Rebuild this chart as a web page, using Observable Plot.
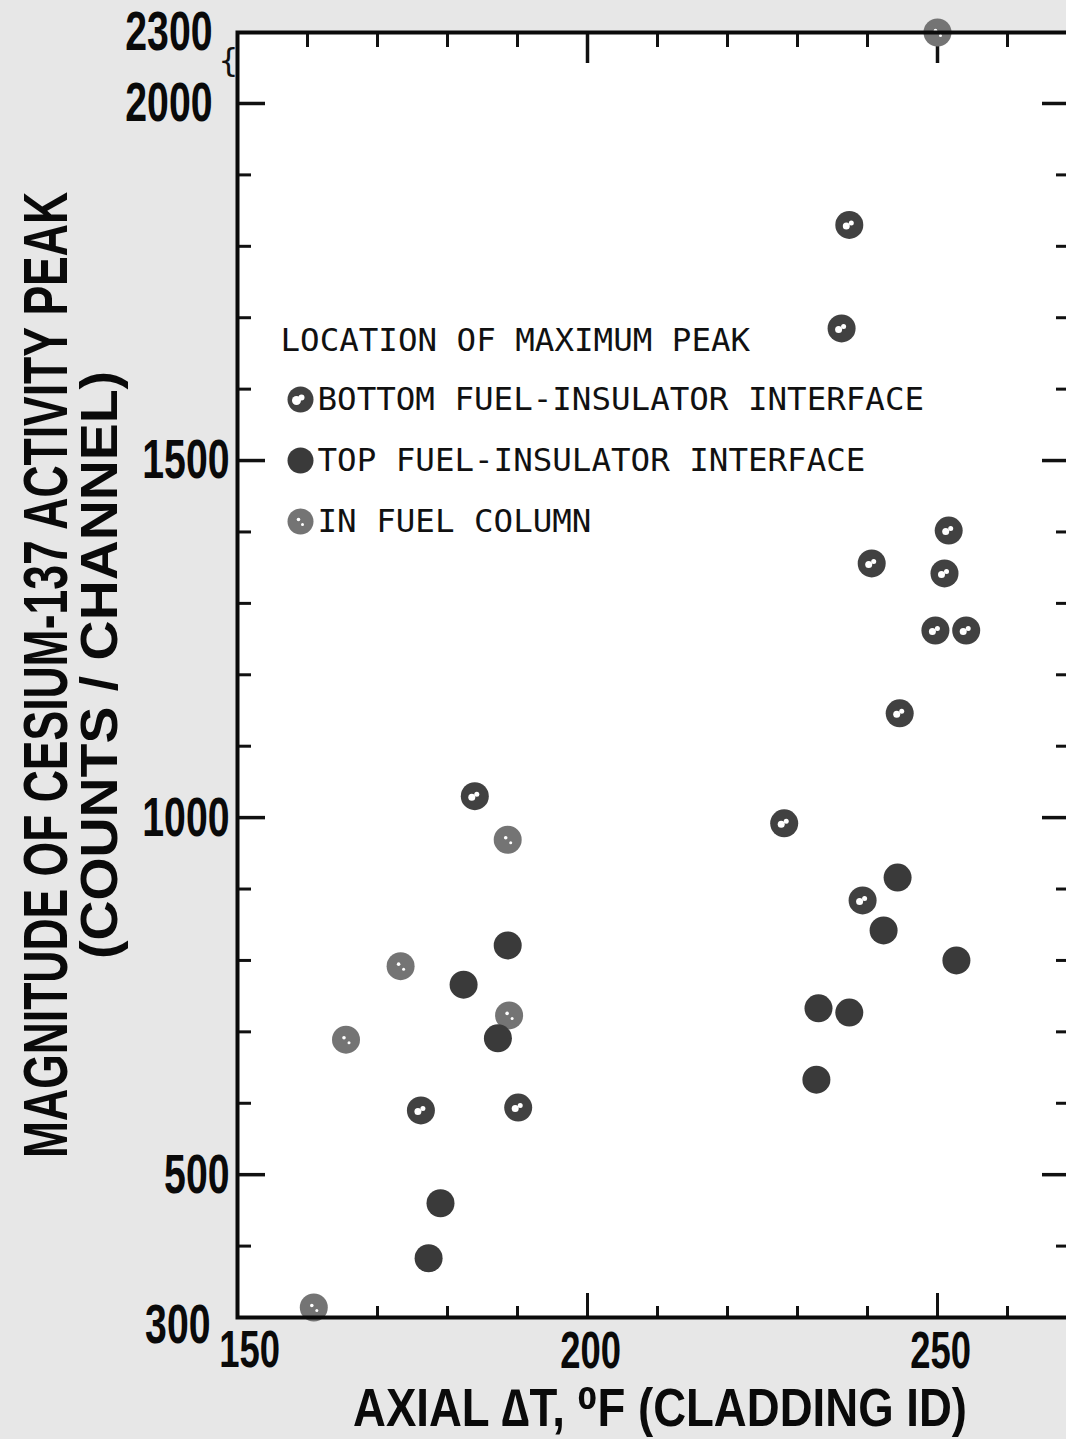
<!DOCTYPE html>
<html>
<head>
<meta charset="utf-8">
<script src="https://cdn.jsdelivr.net/npm/d3@7"></script>
<script src="https://cdn.jsdelivr.net/npm/@observablehq/plot@0.6"></script>
<style>
  html, body { margin: 0; padding: 0; background: #e7e7e7; overflow: hidden; }
  #chart { position: absolute; left: 0; top: 0; }
  #chart svg { max-width: none !important; }
</style>
</head>
<body>
<div id="chart"></div>
<script>
// ---- data ----
const categories = ["BOTTOM FUEL-INSULATOR INTERFACE", "TOP FUEL-INSULATOR INTERFACE", "IN FUEL COLUMN"];
const categoryColors = ["#414141", "#3a3a3a", "#747474"];
const legendTitle = "LOCATION OF MAXIMUM PEAK";

// axial delta T (deg F, cladding ID)
const deltaT = [250.0, 237.4, 236.3, 251.6, 240.6, 251.0, 249.7, 254.1, 244.6, 183.9,
                228.1, 188.6, 244.3, 239.3, 242.3, 188.6, 252.7, 173.3, 182.3, 233.0,
                237.4, 188.8, 187.2, 165.5, 232.7, 176.2, 190.1, 179.0, 177.3, 160.9];
// magnitude of Cs-137 activity peak (counts / channel)
const activity = [2300, 1830, 1685, 1402, 1356, 1342, 1262, 1262, 1146, 1030,
                  992, 969, 916, 884, 842, 821, 800, 792, 766, 733,
                  727, 723, 691, 689, 633, 590, 594, 460, 383, 314];
// location of maximum peak: B = bottom interface, T = top interface, F = in fuel column
const peakLocation = ["F", "B", "B", "B", "B", "B", "B", "B", "B", "B",
                      "B", "F", "T", "B", "T", "T", "T", "F", "T", "T",
                      "T", "F", "T", "F", "T", "B", "B", "T", "T", "F"];

const xMajorTicks = [200, 250];
const xMinorTicks = [160, 170, 180, 190, 210, 220, 230, 240, 260];
const yMajorTicks = [500, 1000, 1500, 2000];
const yMinorTicks = [400, 600, 700, 800, 900, 1100, 1200, 1300, 1400, 1600, 1700, 1800, 1900];
const xTickLabels = [150, 200, 250];
const yTickLabelsUpper = [2300, 2000];
const yTickLabelsMid = [1500, 1000, 500];
const yTickLabelsLow = [300];

const xTitle = "AXIAL \u2206T, \u2070F (CLADDING ID)";
const yTitle1 = "MAGNITUDE OF CESIUM-137 ACTIVITY PEAK";
const yTitle2 = "(COUNTS / CHANNEL)";

// ---- table ----
const codeToCat = {B: categories[0], T: categories[1], F: categories[2]};
const points = deltaT.map((x, i) => ({deltaT: x, activity: activity[i], loc: codeToCat[peakLocation[i]]}));

// broken y axis: 2000..2300 is compressed into a short segment above 2000
const breakAt = 2000, breakTop = 2300, breakSpan = 99.4;
const yPos = v => v <= breakAt ? v : breakAt + (v - breakAt) * breakSpan / (breakTop - breakAt);

// ---- layout ----
const W = 1080, H = 1439;
const mL = 237, mR = 10, mT = 32, mB = 122;
const fw = W - mL - mR, fh = H - mT - mB;

const lettering = "'Liberation Sans', Arial, 'DejaVu Sans', sans-serif";
const mono = "'DejaVu Sans Mono', monospace";

const legendMarks = categories.flatMap((c, i) => {
  const dy = 367 + 61 * i;
  const ms = [
    Plot.dot([c], {frameAnchor: "top-left", dx: 63, dy, r: 13, fill: d => d}),
    Plot.text([c], {frameAnchor: "top-left", dx: 80, dy, text: d => d, textAnchor: "start",
      lineAnchor: "middle", fontFamily: mono, fontSize: 32.5, fill: "#111"})
  ];
  if (i === 0) ms.splice(1, 0,
    Plot.dot([c], {frameAnchor: "top-left", dx: 59, dy: dy + 1, r: 4.5, fill: "white"}),
    Plot.dot([c], {frameAnchor: "top-left", dx: 64, dy: dy - 2, r: 3, fill: "white"}));
  if (i === 2) ms.splice(1, 0,
    Plot.dot([c], {frameAnchor: "top-left", dx: 61, dy: dy - 2, r: 1.8, fill: "white"}),
    Plot.dot([c], {frameAnchor: "top-left", dx: 65, dy: dy + 3, r: 1.5, fill: "white"}));
  return ms;
});

const bottomPts = points.filter(d => d.loc === categories[0]);
const fuelPts = points.filter(d => d.loc === categories[2]);
const yOf = d => yPos(d.activity);

const chart = Plot.plot({
  width: W, height: H,
  marginLeft: mL, marginRight: mR, marginTop: mT, marginBottom: mB,
  style: {background: "transparent", overflow: "visible", maxWidth: "none"},
  x: {domain: [150, 269], axis: null},
  y: {domain: [300, breakAt + breakSpan], axis: null},
  color: {domain: categories, range: categoryColors},
  marks: [
    Plot.frame({fill: "white", stroke: "none"}),
    // left ticks (inward)
    Plot.ruleY(yMajorTicks, {y: yPos, insetRight: fw - 28, stroke: "#111", strokeWidth: 3.5}),
    Plot.ruleY(yMinorTicks, {y: yPos, insetRight: fw - 14, stroke: "#111", strokeWidth: 3}),
    // right ticks (inward)
    Plot.ruleY(yMajorTicks, {y: yPos, insetLeft: fw - 28, stroke: "#111", strokeWidth: 3.5}),
    Plot.ruleY(yMinorTicks, {y: yPos, insetLeft: fw - 14, stroke: "#111", strokeWidth: 3}),
    // top ticks
    Plot.ruleX(xMajorTicks, {insetBottom: fh - 31, stroke: "#111", strokeWidth: 3.5}),
    Plot.ruleX(xMinorTicks, {insetBottom: fh - 15, stroke: "#111", strokeWidth: 3}),
    // bottom ticks
    Plot.ruleX(xMajorTicks, {insetTop: fh - 24, stroke: "#111", strokeWidth: 3}),
    Plot.ruleX(xMinorTicks, {insetTop: fh - 11, stroke: "#111", strokeWidth: 3}),
    // data
    Plot.dot(points, {x: "deltaT", y: yOf, r: 14, fill: "loc"}),
    // white flecks of the printed symbols
    Plot.dot(bottomPts, {x: "deltaT", y: yOf, r: 3.5, dx: -3, dy: 1, fill: "white"}),
    Plot.dot(bottomPts, {x: "deltaT", y: yOf, r: 2.5, dx: 2, dy: -2, fill: "white"}),
    Plot.dot(fuelPts, {x: "deltaT", y: yOf, r: 1.8, dx: -2, dy: -2, fill: "white"}),
    Plot.dot(fuelPts, {x: "deltaT", y: yOf, r: 1.5, dx: 3, dy: 3, fill: "white"}),
    // frame
    Plot.frame({stroke: "#0a0a0a", strokeWidth: 4}),
    // axis break mark
    Plot.text(["{"], {frameAnchor: "top-left", dx: 1, dy: 28, textAnchor: "end", lineAnchor: "middle", fontSize: 32,
      fontFamily: "'DejaVu Sans'", fill: "#111"}),
    // tick labels
    Plot.text(yTickLabelsUpper, {y: yPos, frameAnchor: "left", dx: -25, text: d => String(d), textAnchor: "end",
      fontFamily: lettering, fontWeight: "bold", fontSize: 56, fill: "#0a0a0a"}),
    Plot.text(yTickLabelsMid, {y: yPos, frameAnchor: "left", dx: -8, text: d => String(d), textAnchor: "end",
      fontFamily: lettering, fontWeight: "bold", fontSize: 56, fill: "#0a0a0a"}),
    Plot.text(yTickLabelsLow, {y: yPos, frameAnchor: "left", dx: -27, dy: 8, text: d => String(d), textAnchor: "end",
      fontFamily: lettering, fontWeight: "bold", fontSize: 56, fill: "#0a0a0a"}),
    Plot.text(xTickLabels.filter(d => d === 150), {x: d => d, frameAnchor: "bottom", lineAnchor: "middle", dx: 12, dy: 33,
      text: d => String(d), fontFamily: lettering, fontWeight: "bold", fontSize: 52, fill: "#0a0a0a"}),
    Plot.text(xTickLabels.filter(d => d !== 150), {x: d => d, frameAnchor: "bottom", lineAnchor: "middle", dx: 3, dy: 34,
      text: d => String(d), fontFamily: lettering, fontWeight: "bold", fontSize: 52, fill: "#0a0a0a"}),
    // axis titles
    Plot.text([xTitle], {frameAnchor: "bottom", lineAnchor: "middle", dx: 6, dy: 92, text: d => d,
      fontFamily: lettering, fontWeight: "bold", fontSize: 53, fill: "#0a0a0a"}),
    Plot.text([yTitle1], {frameAnchor: "left", textAnchor: "start", lineAnchor: "middle", dx: -191, dy: 483, rotate: -90,
      text: d => d, fontFamily: lettering, fontWeight: "bold", fontSize: 63, fill: "#0a0a0a"}),
    Plot.text([yTitle2], {frameAnchor: "left", textAnchor: "start", lineAnchor: "middle", dx: -137, dy: 284, rotate: -90,
      text: d => d, fontFamily: lettering, fontWeight: "bold", fontSize: 51, fill: "#0a0a0a"}),
    // legend
    Plot.text([legendTitle], {frameAnchor: "top-left", dx: 43, dy: 308, text: d => d, textAnchor: "start",
      lineAnchor: "middle", fontFamily: mono, fontSize: 32.5, fill: "#111"}),
    ...legendMarks
  ]
});

document.getElementById("chart").appendChild(chart);

// horizontal condensing of the hand-lettered labels (selected by their text),
// done with SVG textLength so that the positions Plot gave stay untouched
const tickStrings = new Set([...xTickLabels, ...yTickLabelsUpper, ...yTickLabelsMid, ...yTickLabelsLow].map(String));
const targets = new Map([[xTitle, 614], [yTitle1, 966], [yTitle2, 588]]);
d3.select(chart).selectAll("text").each(function () {
  const s = this.textContent;
  let len = null;
  if (tickStrings.has(s)) len = this.getComputedTextLength() * 0.7;
  else if (targets.has(s)) len = targets.get(s);
  if (len !== null) {
    this.setAttribute("textLength", len);
    this.setAttribute("lengthAdjust", "spacingAndGlyphs");
  }
});
</script>
</body>
</html>
